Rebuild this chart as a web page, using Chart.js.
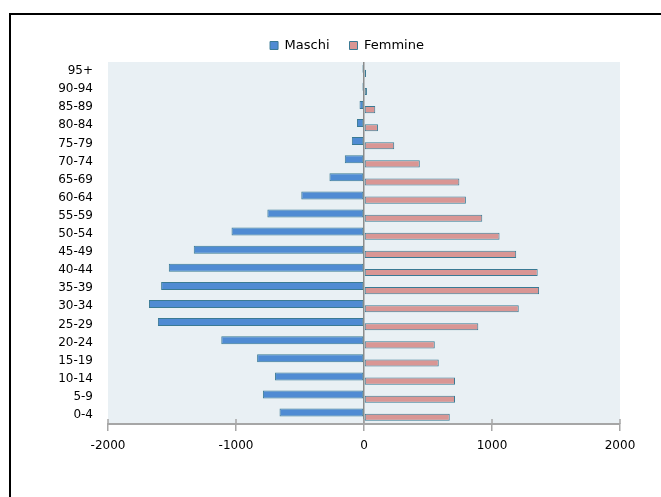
<!DOCTYPE html>
<html lang="it">
<head>
    <meta charset="UTF-8">
    <title>Piramide per età</title>
    <script src="https://cdn.jsdelivr.net/npm/chart.js"></script>
    <style>
        html, body {
            margin: 0;
            padding: 0;
            background: #fff;
            overflow: hidden;
        }

        #wrap {
            position: relative;
            width: 661px;
            height: 497px;
            overflow: hidden;
        }

        /* black frame, only top and left edges are visible */
        #frame {
            position: absolute;
            left: 9px;
            top: 13px;
            width: 720px;
            height: 560px;
            border: 2px solid #000;
        }

        canvas {
            position: absolute;
            left: 0;
            top: 0;
        }
    </style>
</head>
<body>
    <div id="wrap">
        <div id="frame"></div>
        <canvas id="chart" width="661" height="497"></canvas>
    </div>

    <script>
        // age classes, bottom to top
        const categories = ['0-4', '5-9', '10-14', '15-19', '20-24', '25-29', '30-34', '35-39', '40-44', '45-49',
            '50-54', '55-59', '60-64', '65-69', '70-74', '75-79', '80-84', '85-89', '90-94', '95+'];

        // males are plotted on the negative side
        const maschi = [-660, -790, -695, -835, -1115, -1610, -1680, -1585, -1525, -1330,
            -1035, -755, -490, -270, -150, -95, -55, -35, -12, -12];

        const femmine = [670, 711, 711, 584, 553, 893, 1209, 1368, 1357, 1189,
            1059, 924, 796, 745, 436, 236, 109, 88, 23, 16];

        const xTicks = [-2000, -1000, 0, 1000, 2000];

        const FONT = 'DejaVu Sans';

        // light background behind the plot area
        const plotBackground = {
            id: 'plotBackground',
            beforeDraw(chart) {
                const { ctx, chartArea } = chart;
                ctx.save();
                ctx.fillStyle = '#e9f0f4';
                ctx.fillRect(chartArea.left, chartArea.top, chartArea.right - chartArea.left, chartArea.bottom - chartArea.top);
                ctx.restore();
            }
        };

        // legend sits a bit left of the plot centre, like in the original
        const legendShift = {
            id: 'legendShift',
            afterLayout(chart) {
                chart.legend.left = 74;
            }
        };

        // short tick marks poking above the x axis line
        const upperTicks = {
            id: 'upperTicks',
            afterDraw(chart) {
                const { ctx, chartArea } = chart;
                const xScale = chart.scales.x;
                ctx.save();
                ctx.strokeStyle = '#a6a6a6';
                ctx.lineWidth = 1.5;
                xScale.ticks.forEach(t => {
                    const px = xScale.getPixelForValue(t.value);
                    ctx.beginPath();
                    ctx.moveTo(px, chartArea.bottom - 5);
                    ctx.lineTo(px, chartArea.bottom);
                    ctx.stroke();
                });
                ctx.restore();
            }
        };

        const canvas = document.getElementById('chart');
        const ctx2d = canvas.getContext('2d');
        ctx2d.letterSpacing = '1px';

        new Chart(canvas, {
            type: 'bar',
            data: {
                labels: categories,
                datasets: [
                    {
                        label: 'Maschi',
                        data: maschi,
                        backgroundColor: '#4f8bd3',
                        borderColor: '#3a7a94',
                        borderWidth: 1,
                        borderSkipped: false,
                        barPercentage: 1.7
                    },
                    {
                        label: 'Femmine',
                        data: femmine,
                        backgroundColor: '#d99694',
                        borderColor: '#3a7a94',
                        borderWidth: 1,
                        borderSkipped: false,
                        barPercentage: 1.5
                    }
                ]
            },
            options: {
                indexAxis: 'y',
                responsive: false,
                animation: false,
                categoryPercentage: 0.52,
                layout: {
                    padding: { left: 0, right: 41, top: 19, bottom: 23 }
                },
                plugins: {
                    legend: {
                        position: 'top',
                        labels: {
                            boxWidth: 8,
                            boxHeight: 8,
                            padding: 20,
                            color: '#000',
                            font: { family: FONT, size: 13 }
                        }
                    },
                    tooltip: { enabled: false }
                },
                scales: {
                    x: {
                        min: -2000,
                        max: 2000,
                        afterBuildTicks: scale => {
                            scale.ticks = xTicks.map(v => ({ value: v }));
                        },
                        afterFit: scale => {
                            scale.height = 50;
                        },
                        grid: {
                            color: c => (c.tick && c.tick.value === 0) ? '#8c8c8c' : 'transparent',
                            lineWidth: 1.5,
                            tickColor: '#a6a6a6',
                            tickLength: 7,
                            tickWidth: 1.5
                        },
                        border: { display: true, color: '#a6a6a6', width: 2 },
                        ticks: {
                            color: '#000',
                            padding: 8,
                            font: { family: FONT, size: 12 },
                            callback: v => String(v)
                        }
                    },
                    y: {
                        reverse: true,
                        afterFit: scale => {
                            scale.width = 108;
                        },
                        grid: { display: false, drawTicks: false },
                        border: { display: false },
                        ticks: {
                            color: '#000',
                            padding: 15,
                            autoSkip: false,
                            font: { family: FONT, size: 12 }
                        }
                    }
                }
            },
            plugins: [plotBackground, legendShift, upperTicks]
        });
    </script>
</body>
</html>
